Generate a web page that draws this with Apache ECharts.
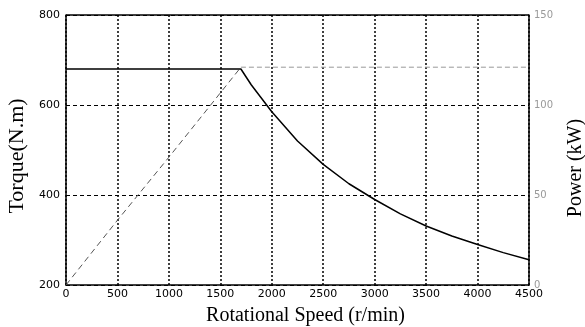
<!DOCTYPE html>
<html><head><meta charset="utf-8">
<script src="https://cdn.jsdelivr.net/npm/echarts@6/dist/echarts.min.js"></script>
<style>html,body{margin:0;padding:0;background:#fff}#c{width:585px;height:327px}</style>
</head><body><div id="c"></div>
<script>
const xTicks = [0, 500, 1000, 1500, 2000, 2500, 3000, 3500, 4000, 4500];
const torqueLeft = [200, 400, 600, 800];
const powerRight = [0, 50, 100, 150];
const torqueCurve = [[0,680],[500,680],[1000,680],[1500,680],[1700,680],[1800,645],[2000,585],[2250,520],[2500,468],[2750,425],[3000,390],[3250,358],[3500,331],[3750,309],[4000,290],[4250,272],[4500,256]];
const powerRise = [[0,0],[500,36],[1000,71],[1700,121]];
const powerFlat = [[1700,121],[4500,121]];

const chart = echarts.init(document.getElementById('c'));
const tickFont = {fontFamily:'DejaVu Sans', fontSize:11, color:'#000'};
chart.setOption({
  animation:false,
  grid:{left:66,right:56,top:15,bottom:42,show:false,containLabel:false,outerBoundsMode:'none'},
  xAxis:{type:'value',min:0,max:4500,interval:500,
    name:'Rotational Speed (r/min)',nameLocation:'middle',nameGap:21,
    nameTextStyle:{fontFamily:'Liberation Serif',fontSize:20,color:'#000',padding:[0,0,0,16]},
    axisLine:{lineStyle:{color:'#000',width:1.5}},axisTick:{show:false},
    axisLabel:Object.assign({margin:4,formatter:v=>xTicks.includes(v)?String(v):''},tickFont),
    splitLine:{show:true,lineStyle:{color:'#000',type:[2,2],width:1.5}}},
  yAxis:[{type:'value',min:200,max:800,interval:200,position:'left',
    name:'Torque(N.m)',nameLocation:'middle',nameGap:35,nameRotate:90,
    nameTextStyle:{fontFamily:'Liberation Serif',fontSize:22,color:'#000',padding:[0,12,0,0]},
    axisLine:{show:true,lineStyle:{color:'#000',width:1.5}},axisTick:{show:false},
    axisLabel:Object.assign({margin:6,formatter:v=>torqueLeft.includes(v)?String(v):''},tickFont),
    splitLine:{show:true,lineStyle:{color:'#000',type:[4,3],width:1.2}}},
   {type:'value',min:0,max:150,interval:50,position:'right',
    name:'Power (kW)',nameLocation:'middle',nameGap:37,nameRotate:90,
    nameTextStyle:{fontFamily:'Liberation Serif',fontSize:20,color:'#000',padding:[0,36,0,0]},
    axisLine:{show:true,lineStyle:{color:'#000',width:1.5}},axisTick:{show:false},
    axisLabel:{margin:5,fontFamily:'DejaVu Sans',fontSize:10,color:'#999',formatter:v=>powerRight.includes(v)?String(v):''},
    splitLine:{show:false}}],
  graphic:[{type:'line',shape:{x1:66,y1:15,x2:529,y2:15},style:{stroke:'#000',lineWidth:1.5},z:10}],
  series:[
    {type:'line',yAxisIndex:0,data:torqueCurve,symbol:'none',lineStyle:{color:'#000',width:1.5},z:5},
    {type:'line',yAxisIndex:1,data:powerRise,symbol:'none',lineStyle:{color:'#555',width:1,type:[6,4]},z:4},
    {type:'line',yAxisIndex:1,data:powerFlat,symbol:'none',lineStyle:{color:'#999',width:1,type:[5,3]},z:4}
  ]
});
</script></body></html>
